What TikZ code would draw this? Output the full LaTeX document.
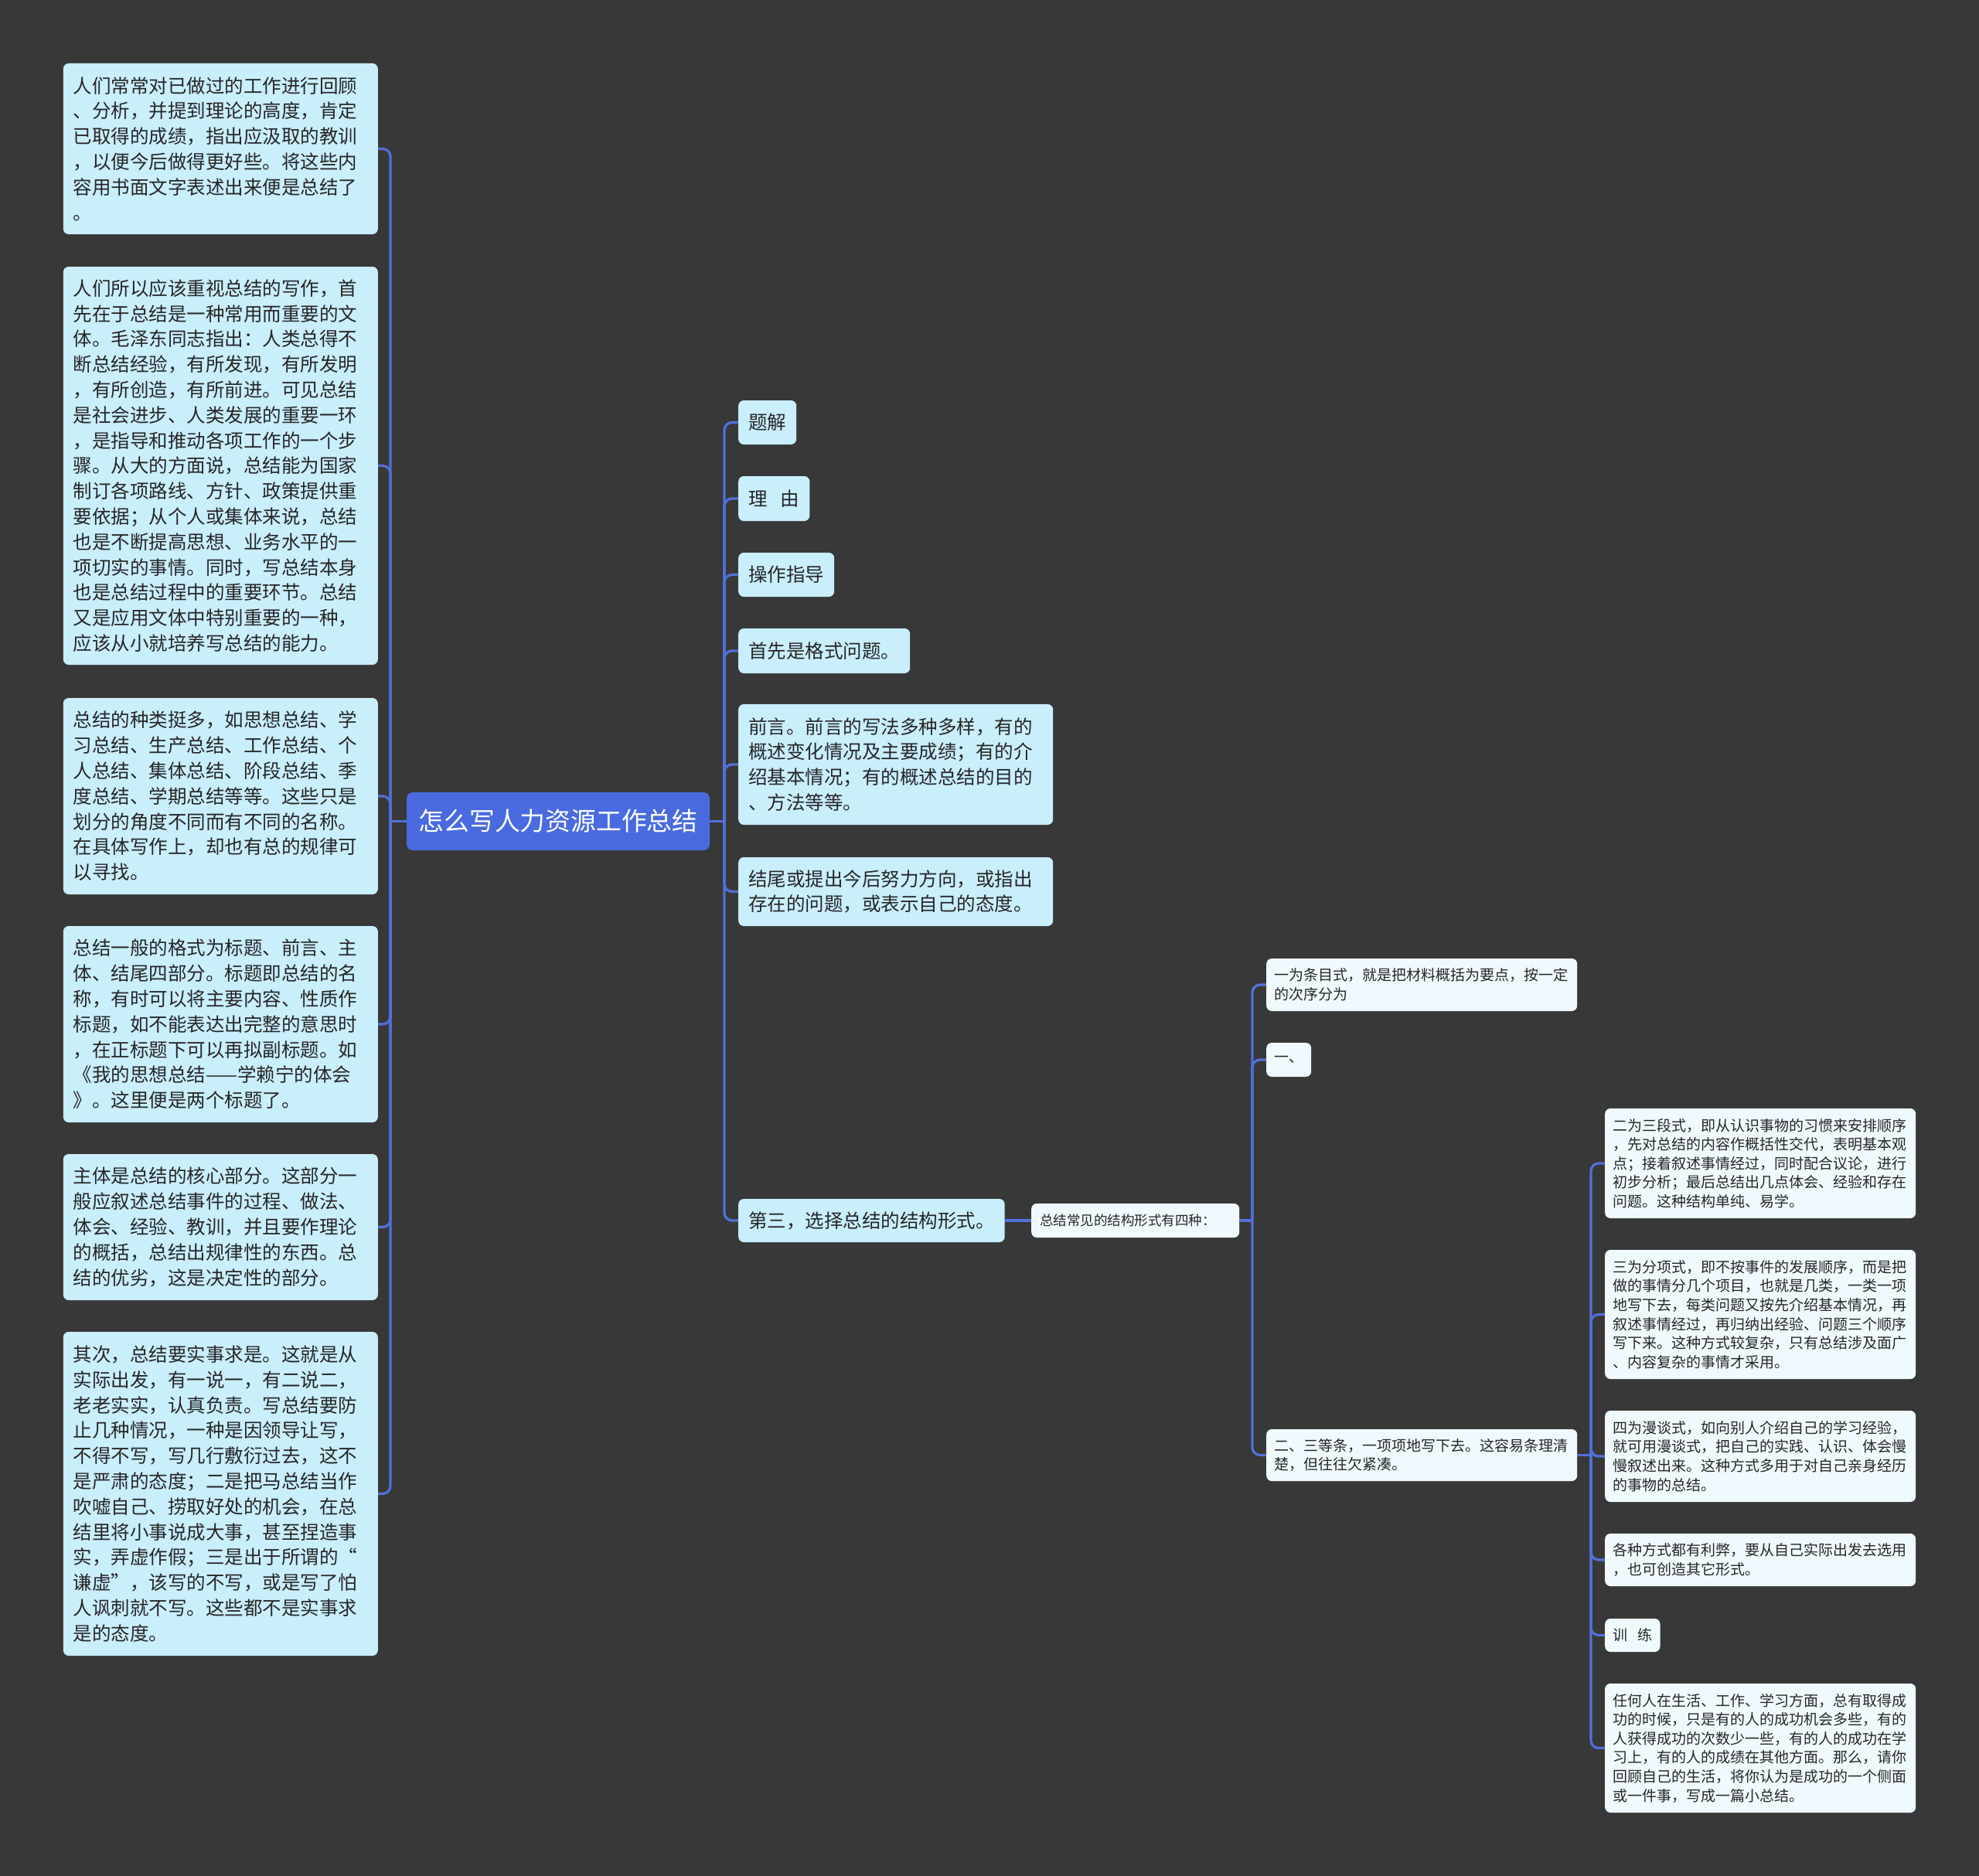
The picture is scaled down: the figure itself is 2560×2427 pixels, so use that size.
\documentclass[tikz,border=0pt]{standalone}
\usepackage{fontspec}
\usepackage{tikz}
\usetikzlibrary{positioning}
\newfontfamily\cjk{Noto Sans CJK SC}
\definecolor{bgdark}{HTML}{383839}
\definecolor{rootc}{HTML}{4A6BDF}
\definecolor{linkc}{HTML}{5270DA}
\definecolor{boxblue}{HTML}{C9EEFC}
\definecolor{boxpale}{HTML}{F0FAFE}
\definecolor{ink}{HTML}{262626}

\begin{document}
\begin{tikzpicture}[x=1pt, y=-1pt,
  txtbig/.style={font=\cjk\fontsize{24.5}{32.8}\selectfont},
  txtsmall/.style={font=\cjk\fontsize{19}{24.6}\selectfont},
  box/.style={rounded corners=7pt, inner xsep=13pt, inner ysep=0pt, align=left, text=ink},
  lbox/.style={box, txtbig, fill=boxblue, text width=381pt, anchor=east},
  mbox/.style={box, txtbig, fill=boxblue, anchor=west},
  rbox/.style={box, txtsmall, fill=boxpale, inner xsep=10pt, anchor=west},
  link/.style={draw=linkc, line width=3.2pt, rounded corners=10pt}]
\fill[bgdark] (0,0) rectangle (2560,2427);
% ---------------- root
\node[rounded corners=8pt, fill=rootc, text=white, font=\cjk\fontsize{32.8}{40}\selectfont,
  minimum width=392pt, minimum height=75pt, inner xsep=15pt] (root) at (722,1062.5) {怎么写人力资源工作总结};
% ---------------- left column
\node[lbox, minimum height=221pt] (l1) at (489,192.5) {人们常常对已做过的工作进行回顾\\、分析，并提到理论的高度，肯定\\已取得的成绩，指出应汲取的教训\\，以便今后做得更好些。将这些内\\容用书面文字表述出来便是总结了\\。};
\node[lbox, minimum height=515pt] (l2) at (489,602.5) {人们所以应该重视总结的写作，首\\先在于总结是一种常用而重要的文\\体。毛泽东同志指出：人类总得不\\断总结经验，有所发现，有所发明\\，有所创造，有所前进。可见总结\\是社会进步、人类发展的重要一环\\，是指导和推动各项工作的一个步\\骤。从大的方面说，总结能为国家\\制订各项路线、方针、政策提供重\\要依据；从个人或集体来说，总结\\也是不断提高思想、业务水平的一\\项切实的事情。同时，写总结本身\\也是总结过程中的重要环节。总结\\又是应用文体中特别重要的一种，\\应该从小就培养写总结的能力。};
\node[lbox, minimum height=254pt] (l3) at (489,1030) {总结的种类挺多，如思想总结、学\\习总结、生产总结、工作总结、个\\人总结、集体总结、阶段总结、季\\度总结、学期总结等等。这些只是\\划分的角度不同而有不同的名称。\\在具体写作上，却也有总的规律可\\以寻找。};
\node[lbox, minimum height=254pt] (l4) at (489,1325) {总结一般的格式为标题、前言、主\\体、结尾四部分。标题即总结的名\\称，有时可以将主要内容、性质作\\标题，如不能表达出完整的意思时\\，在正标题下可以再拟副标题。如\\《我的思想总结——学赖宁的体会\\》。这里便是两个标题了。};
\node[lbox, minimum height=189pt] (l5) at (489,1587.5) {主体是总结的核心部分。这部分一\\般应叙述总结事件的过程、做法、\\体会、经验、教训，并且要作理论\\的概括，总结出规律性的东西。总\\结的优劣，这是决定性的部分。};
\node[lbox, minimum height=419pt] (l6) at (489,1932.5) {其次，总结要实事求是。这就是从\\实际出发，有一说一，有二说二，\\老老实实，认真负责。写总结要防\\止几种情况，一种是因领导让写，\\不得不写，写几行敷衍过去，这不\\是严肃的态度；二是把马总结当作\\吹嘘自己、捞取好处的机会，在总\\结里将小事说成大事，甚至捏造事\\实，弄虚作假；三是出于所谓的“\\谦虚”，该写的不写，或是写了怕\\人讽刺就不写。这些都不是实事求\\是的态度。};
% ---------------- middle column
\node[mbox, minimum height=57pt] (m1) at (955,546.5) {题解};
\node[mbox, minimum height=58pt] (m2) at (955,645) {理\hspace{0.7em}由};
\node[mbox, minimum height=57pt] (m3) at (955,743.5) {操作指导};
\node[mbox, minimum height=58pt] (m4) at (955,842) {首先是格式问题。};
\node[mbox, minimum height=156pt, text width=381pt] (m5) at (955,989) {前言。前言的写法多种多样，有的\\概述变化情况及主要成绩；有的介\\绍基本情况；有的概述总结的目的\\、方法等等。};
\node[mbox, minimum height=89pt, text width=381pt] (m6) at (955,1153.5) {结尾或提出今后努力方向，或指出\\存在的问题，或表示自己的态度。};
\node[mbox, minimum height=56pt] (m7) at (955,1579) {第三，选择总结的结构形式。};
% ---------------- structure forms
\node[rbox, font=\cjk\fontsize{17.5}{22}\selectfont, inner xsep=11pt, text width=247pt, minimum height=44pt] (s0) at (1334,1579) {总结常见的结构形式有四种：};
\node[rbox, minimum height=68pt, text width=382pt] (r1) at (1638,1274) {一为条目式，就是把材料概括为要点，按一定\\的次序分为};
\node[rbox, minimum height=44pt] (r2) at (1638,1371) {一、};
\node[rbox, minimum height=67pt, text width=382pt] (r3) at (1638,1882.5) {二、三等条，一项项地写下去。这容易条理清\\楚，但往往欠紧凑。};
\node[rbox, minimum height=142pt, text width=382pt] (t1) at (2076,1505) {二为三段式，即从认识事物的习惯来安排顺序\\，先对总结的内容作概括性交代，表明基本观\\点；接着叙述事情经过，同时配合议论，进行\\初步分析；最后总结出几点体会、经验和存在\\问题。这种结构单纯、易学。};
\node[rbox, minimum height=167pt, text width=382pt] (t2) at (2076,1700.5) {三为分项式，即不按事件的发展顺序，而是把\\做的事情分几个项目，也就是几类，一类一项\\地写下去，每类问题又按先介绍基本情况，再\\叙述事情经过，再归纳出经验、问题三个顺序\\写下来。这种方式较复杂，只有总结涉及面广\\、内容复杂的事情才采用。};
\node[rbox, minimum height=118pt, text width=382pt] (t3) at (2076,1884) {四为漫谈式，如向别人介绍自己的学习经验，\\就可用漫谈式，把自己的实践、认识、体会慢\\慢叙述出来。这种方式多用于对自己亲身经历\\的事物的总结。};
\node[rbox, minimum height=68pt, text width=382pt] (t4) at (2076,2018) {各种方式都有利弊，要从自己实际出发去选用\\，也可创造其它形式。};
\node[rbox, minimum height=43pt] (t5) at (2076,2115.5) {训\hspace{0.7em}练};
\node[rbox, minimum height=167pt, text width=382pt] (t6) at (2076,2261.5) {任何人在生活、工作、学习方面，总有取得成\\功的时候，只是有的人的成功机会多些，有的\\人获得成功的次数少一些，有的人的成功在学\\习上，有的人的成绩在其他方面。那么，请你\\回顾自己的生活，将你认为是成功的一个侧面\\或一件事，写成一篇小总结。};
% ---------------- connectors
\coordinate (lj) at (505,1062.5);
\draw[link] (root.west) -- (lj);
\foreach \n in {l1,l2,l3,l4,l5,l6} \draw[link] (lj) |- (\n.east);
\coordinate (mj) at (937,1062.5);
\draw[link] (root.east) -- (mj);
\foreach \n in {m1,m2,m3,m4,m5,m6,m7} \draw[link] (mj) |- (\n.west);
\draw[link] (m7.east) -- (s0.west);
\coordinate (sj) at (1620,1579);
\draw[link] (s0.east) -- (sj);
\foreach \n in {r1,r2,r3} \draw[link] (sj) |- (\n.west);
\coordinate (tj) at (2058,1882.5);
\draw[link] (r3.east) -- (tj);
\foreach \n in {t1,t2,t3,t4,t5,t6} \draw[link] (tj) |- (\n.west);
\end{tikzpicture}
\end{document}
